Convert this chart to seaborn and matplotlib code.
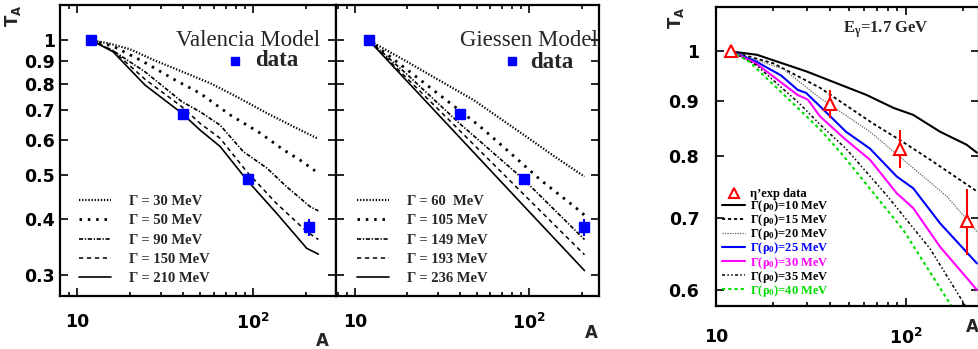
import numpy as np
import seaborn as sns
import matplotlib.pyplot as plt
from matplotlib.lines import Line2D
from matplotlib.ticker import LogLocator, NullFormatter, NullLocator

# measured transparency, shared by the two left panels
A_DATA = [12, 40, 93, 208]
T_DATA = [1.0, 0.685, 0.49, 0.383]
T_DATA_ERR = [0.004, 0.006, 0.006, 0.016]

# Valencia model
VAL_A_30 = [12, 15, 20, 27, 40, 58, 80, 120, 170, 235]
VAL_T_30 = [1.0, 0.985, 0.955, 0.905, 0.85, 0.80, 0.75, 0.688, 0.642, 0.603]
VAL_A_50 = [12, 16, 23.8, 36, 50, 74, 110, 149, 185, 225]
VAL_T_50 = [1.0, 0.97, 0.896, 0.816, 0.762, 0.682, 0.621, 0.570, 0.541, 0.512]
VAL_A_90 = [12, 16, 24.3, 39.4, 50, 65, 88, 120, 155, 211, 235]
VAL_T_90 = [1.0, 0.948, 0.851, 0.73, 0.693, 0.647, 0.565, 0.519, 0.472, 0.426, 0.417]
VAL_A_150 = [12, 16, 24.3, 39.4, 50, 65, 92, 136, 202, 235]
VAL_T_150 = [1.0, 0.948, 0.819, 0.711, 0.653, 0.605, 0.51, 0.433, 0.375, 0.36]
VAL_A_210 = [12, 16, 24.3, 39.4, 50, 65, 92, 136, 202, 235]
VAL_T_210 = [1.0, 0.943, 0.795, 0.688, 0.631, 0.58, 0.489, 0.412, 0.344, 0.334]

# Giessen model
GIE_A_60 = [12, 20, 30, 48, 70, 97, 140, 208]
GIE_T_60 = [1.0, 0.895, 0.817, 0.736, 0.665, 0.609, 0.551, 0.497]
GIE_A_105 = [12, 21.2, 31.5, 51.2, 74.5, 116, 188, 208]
GIE_T_105 = [1.0, 0.844, 0.749, 0.647, 0.570, 0.489, 0.422, 0.408]
GIE_A_149 = [12, 20, 40, 93, 208]
GIE_T_149 = [1.0, 0.838, 0.652, 0.49, 0.36]
GIE_A_193 = [12, 20, 40, 93, 208]
GIE_T_193 = [1.0, 0.821, 0.629, 0.454, 0.333]
GIE_A_236 = [12, 20, 40, 93, 208]
GIE_T_236 = [1.0, 0.809, 0.607, 0.428, 0.307]

# eta' at E_gamma = 1.7 GeV
ETA_A = [12, 40, 93, 208]
ETA_T = [1.0, 0.894, 0.812, 0.695]
ETA_ERR = [0.0, 0.026, 0.033, 0.049]

RHO_A_10 = [12, 16.4, 30, 62, 86, 109, 151, 208, 236]
RHO_T_10 = [1.0, 0.993, 0.958, 0.911, 0.886, 0.873, 0.842, 0.819, 0.805]
RHO_A_15 = [12, 20, 35.3, 67, 93, 134, 236]
RHO_T_15 = [1.0, 0.975, 0.925, 0.857, 0.827, 0.793, 0.741]
RHO_A_20 = [12, 22.6, 35.3, 64.6, 109, 164, 236]
RHO_T_20 = [1.0, 0.963, 0.905, 0.842, 0.779, 0.733, 0.680]
RHO_A_25 = [12, 16.2, 22, 26.9, 29.8, 35.3, 48.3, 64.6, 89.3, 109, 151, 236]
RHO_T_25 = [1.0, 0.979, 0.95, 0.921, 0.915, 0.889, 0.842, 0.812, 0.765, 0.746, 0.692, 0.635]
RHO_A_30 = [12, 16.2, 26.9, 30.4, 35.3, 47.3, 64.6, 89.3, 109, 151, 236]
RHO_T_30 = [1.0, 0.975, 0.911, 0.902, 0.870, 0.830, 0.793, 0.738, 0.715, 0.658, 0.600]
RHO_A_35 = [12, 16.2, 27.4, 35.3, 48.3, 79, 134, 205, 236]
RHO_T_35 = [1.0, 0.972, 0.895, 0.855, 0.812, 0.735, 0.655, 0.58, 0.555]
RHO_A_40 = [12, 14.9, 26.4, 35.3, 47.3, 57.3, 96.8, 174, 236]
RHO_T_40 = [1.0, 0.979, 0.889, 0.846, 0.798, 0.765, 0.682, 0.579, 0.53]

W, H = 979, 349


def _fx(x):
    return x / W


def _fy(y):
    return 1 - y / H


def _style(ax, xlim, ylim, yticks, ylabels, xpad, ypad, size):
    ax.set_xscale("log")
    ax.set_yscale("log")
    ax.set_xlim(xlim)
    ax.set_ylim(ylim)
    ax.set_xticks([10, 100])
    ax.set_xticklabels(["10", r"$\mathbf{10^2}$"], fontweight="bold")
    ax.xaxis.set_minor_locator(LogLocator(base=10, subs=np.arange(2, 10)))
    ax.xaxis.set_minor_formatter(NullFormatter())
    ax.set_yticks(yticks)
    ax.set_yticklabels(ylabels, fontweight="bold")
    ax.yaxis.set_minor_locator(NullLocator())
    ax.tick_params(which="both", direction="in", top=True, right=True,
                   width=1.2, colors="black")
    ax.tick_params(which="major", length=6)
    ax.tick_params(which="minor", length=3)
    ax.tick_params(axis="x", pad=xpad, labelsize=size)
    ax.tick_params(axis="y", pad=ypad, labelsize=size)
    ax.set_xlabel("")
    ax.set_ylabel("")
    for s in ax.spines.values():
        s.set_linewidth(1.6)
        s.set_color("black")


def _curves(ax, curves):
    handles = []
    for a, t, label, color, ls, lw in curves:
        sns.lineplot(x=a, y=t, ax=ax, color=color, linestyle=ls,
                     linewidth=lw, label=label)
        handles.append(ax.get_lines()[-1])
    return handles


sns.set_theme(style="ticks")
plt.rcParams.update({
    "font.family": ["DejaVu Sans"],
    "mathtext.fontset": "custom",
    "mathtext.rm": "Liberation Serif:bold",
    "mathtext.bf": "DejaVu Sans:bold",
    "mathtext.default": "rm",
})

fig = plt.figure(figsize=(9.79, 3.49), dpi=100)
ax1 = fig.add_axes([_fx(60), _fy(296), 276 / W, 291 / H])
ax2 = fig.add_axes([_fx(336), _fy(296), 263 / W, 291 / H])
ax3 = fig.add_axes([_fx(716), _fy(306), 263 / W, 299 / H])

serif_leg = {"family": "Liberation Serif", "weight": "bold", "size": 10.5}
left_yt = [0.3, 0.4, 0.5, 0.6, 0.7, 0.8, 0.9, 1.0]
left_yl = ["0.3", "0.4", "0.5", "0.6", "0.7", "0.8", "0.9", "1"]

# ---- Valencia
val = [
    (VAL_A_30, VAL_T_30, "Γ = 30 MeV", "black", (0, (0.6, 0.8)), 1.6),
    (VAL_A_50, VAL_T_50, "Γ = 50 MeV", "black", (0, (0.9, 2.1)), 2.0),
    (VAL_A_90, VAL_T_90, "Γ = 90 MeV", "black", (0, (2.5, 1, 0.8, 1)), 1.2),
    (VAL_A_150, VAL_T_150, "Γ = 150 MeV", "black", (0, (2.8, 2.4)), 1.1),
    (VAL_A_210, VAL_T_210, "Γ = 210 MeV", "black", "-", 1.2),
]
h1 = _curves(ax1, val)
ax1.errorbar(A_DATA, T_DATA, yerr=T_DATA_ERR, fmt="s", color="#0000ff",
             markersize=7.5, elinewidth=1.5, capsize=0, zorder=5)
_style(ax1, (8.0, 296), (0.2695, 1.198), left_yt, left_yl, 12, 3.5, 12.5)
ax1.legend(handles=h1, loc="upper left", bbox_to_anchor=(0.07, 0.348),
           frameon=False, prop=serif_leg, handlelength=2.2,
           handletextpad=1.2, labelspacing=0.42, borderpad=0, borderaxespad=0)

# ---- Giessen
gie = [
    (GIE_A_60, GIE_T_60, "Γ = 60  MeV", "black", (0, (0.6, 0.8)), 1.6),
    (GIE_A_105, GIE_T_105, "Γ = 105 MeV", "black", (0, (0.9, 2.1)), 2.0),
    (GIE_A_149, GIE_T_149, "Γ = 149 MeV", "black", (0, (2.5, 1, 0.8, 1)), 1.2),
    (GIE_A_193, GIE_T_193, "Γ = 193 MeV", "black", (0, (2.8, 2.4)), 1.1),
    (GIE_A_236, GIE_T_236, "Γ = 236 MeV", "black", "-", 1.2),
]
h2 = _curves(ax2, gie)
ax2.errorbar(A_DATA, T_DATA, yerr=T_DATA_ERR, fmt="s", color="#0000ff",
             markersize=7.5, elinewidth=1.5, capsize=0, zorder=5)
_style(ax2, (7.78, 252), (0.2695, 1.198), left_yt, left_yl, 12, 3.5, 12.5)
ax2.tick_params(axis="y", labelleft=False)
ax2.legend(handles=h2, loc="upper left", bbox_to_anchor=(0.08, 0.348),
           frameon=False, prop=serif_leg, handlelength=2.2,
           handletextpad=1.2, labelspacing=0.42, borderpad=0, borderaxespad=0)

# ---- eta' panel
rho = [
    (RHO_A_10, RHO_T_10, "Γ(ρ$_0$)=10 MeV", "black", "-", 1.5),
    (RHO_A_15, RHO_T_15, "Γ(ρ$_0$)=15 MeV", "black", (0, (1.8, 1.5)), 1.3),
    (RHO_A_20, RHO_T_20, "Γ(ρ$_0$)=20 MeV", "#666666", (0, (1, 1)), 0.9),
    (RHO_A_25, RHO_T_25, "Γ(ρ$_0$)=25 MeV", "#0000ff", "-", 1.5),
    (RHO_A_30, RHO_T_30, "Γ(ρ$_0$)=30 MeV", "#ff00ff", "-", 1.5),
    (RHO_A_35, RHO_T_35, "Γ(ρ$_0$)=35 MeV", "black", (0, (2, 1.5, 1, 1.5, 1, 1.5)), 1.1),
    (RHO_A_40, RHO_T_40, "Γ(ρ$_0$)=40 MeV", "#00dd00", (0, (1.5, 1.5)), 1.5),
]
h3 = _curves(ax3, rho)
ax3.errorbar(ETA_A, ETA_T, yerr=ETA_ERR, fmt="^", color="red",
             markerfacecolor="white", markeredgewidth=1.5, markersize=9,
             elinewidth=1.5, capsize=0, zorder=5)
_style(ax3, (10, 242), (0.5796, 1.10), [0.6, 0.7, 0.8, 0.9, 1.0],
       ["0.6", "0.7", "0.8", "0.9", "1"], 16, 12, 12.5)
tri = Line2D([], [], linestyle="none", marker="^", markersize=7,
             markerfacecolor="white", markeredgecolor="red", markeredgewidth=1.5)
leg3 = ax3.legend(handles=[tri] + h3, labels=["η’exp data"] + [c[2] for c in rho],
                  loc="upper left", bbox_to_anchor=(0.023, 0.395), frameon=False,
                  prop={"family": "Liberation Serif", "weight": "bold", "size": 9},
                  handlelength=1.85, handletextpad=0.4, labelspacing=-0.15,
                  borderpad=0, borderaxespad=0, numpoints=1)
for txt, col in zip(leg3.get_texts(), ["black", "black", "black", "black",
                                        "#0000ff", "#ff00ff", "black", "#00dd00"]):
    txt.set_color(col)

# ---- annotations
fig.text(_fx(320), _fy(40), "Valencia Model", ha="right", va="center",
         family="Liberation Serif", fontsize=16.5)
fig.text(_fx(255), _fy(61), "data", ha="left", va="center",
         family="Liberation Serif", fontweight="bold", fontsize=16.5)
fig.text(_fx(598), _fy(40), "Giessen Model", ha="right", va="center",
         family="Liberation Serif", fontsize=16.5)
fig.text(_fx(530), _fy(62), "data", ha="left", va="center",
         family="Liberation Serif", fontweight="bold", fontsize=16.5)
for x in (235, 512):
    fig.add_artist(Line2D([_fx(x)], [_fy(61)], marker="s", markersize=6,
                          color="#0000ff", linestyle="none"))
fig.text(_fx(843), _fy(30), "E$_{γ}$=1.7 GeV", ha="left", va="center",
         family="Liberation Serif", fontweight="bold", fontsize=12)

for x, y in ((13, 16), (676, 18)):
    fig.text(_fx(x), _fy(y), r"$\mathbf{T_A}$", rotation=90, ha="center",
             va="center", fontsize=12)
for x, y in ((322, 341), (591, 333), (972, 327)):
    fig.text(_fx(x), _fy(y), "A", ha="center", va="center",
             fontweight="bold", fontsize=12)

fig.savefig("out.png", dpi=100)
